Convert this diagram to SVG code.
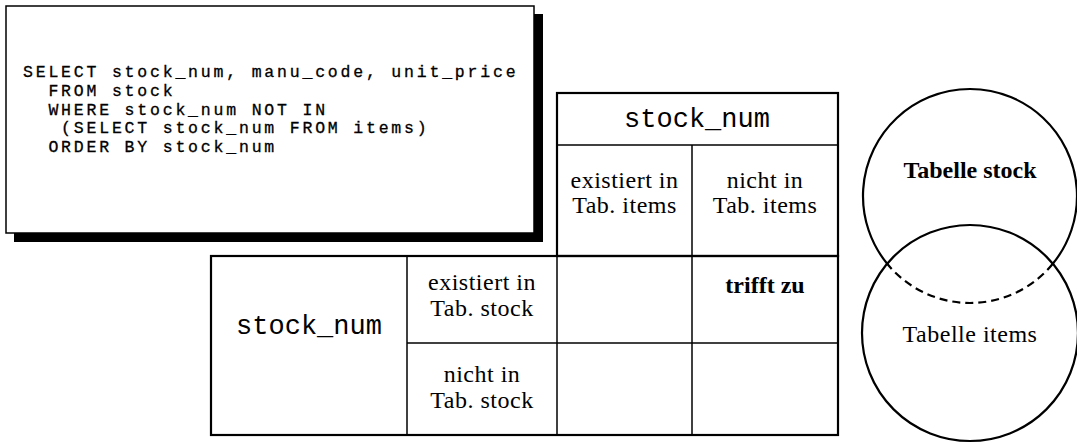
<svg xmlns="http://www.w3.org/2000/svg" width="1077" height="443" viewBox="0 0 1077 443">
  <style>
    .code { font-family: "Liberation Mono", "DejaVu Sans Mono", monospace; font-size: 16.5px; letter-spacing: 2.8px; fill: #000; stroke: #000; stroke-width: 0.3; white-space: pre; }
    .mono { font-family: "Liberation Mono", "DejaVu Sans Mono", monospace; font-size: 27px; fill: #000; text-anchor: middle; }
    .lbl { font-family: "Liberation Serif", "DejaVu Serif", serif; font-size: 24px; fill: #000; text-anchor: middle; letter-spacing: 0.5px; }
    .bold { font-weight: bold; letter-spacing: 0; }
    .frame { fill: none; stroke: #000; stroke-width: 2.2; }
    .rule { fill: none; stroke: #000; stroke-width: 1.5; }
    .circ { fill: none; stroke: #000; stroke-width: 2.2; }
  </style>
  <rect width="1077" height="443" fill="#fff"/>

  <!-- SQL statement card with drop shadow -->
  <g id="sql-card">
    <rect x="14" y="14" width="529" height="228" fill="#000"/>
    <rect x="6" y="6" width="528" height="227" fill="#fff" stroke="#000" stroke-width="1.5"/>
    <text class="code" xml:space="preserve"><tspan x="23" y="77">SELECT stock_num, manu_code, unit_price</tspan><tspan x="23" y="95.8">  FROM stock</tspan><tspan x="23" y="114.6">  WHERE stock_num NOT IN</tspan><tspan x="23" y="133.4">   (SELECT stock_num FROM items)</tspan><tspan x="23" y="152.2">  ORDER BY stock_num</tspan></text>
  </g>

  <!-- column header block: stock_num in items -->
  <g id="col-header">
    <rect class="frame" x="557" y="93" width="281" height="163"/>
    <line class="rule" x1="557" y1="145" x2="838" y2="145"/>
    <line class="rule" x1="692" y1="145" x2="692" y2="256"/>
    <text class="mono" x="697" y="127">stock_num</text>
    <text class="lbl" x="624.5" y="188">existiert in</text>
    <text class="lbl" x="624.5" y="213">Tab. items</text>
    <text class="lbl" x="765" y="188">nicht in</text>
    <text class="lbl" x="765" y="213">Tab. items</text>
  </g>

  <!-- row header block and result cells -->
  <g id="row-header">
    <rect class="frame" x="211" y="256" width="627" height="179"/>
    <line class="rule" x1="407" y1="256" x2="407" y2="435"/>
    <line class="rule" x1="557" y1="256" x2="557" y2="435"/>
    <line class="rule" x1="692" y1="256" x2="692" y2="435"/>
    <line class="rule" x1="407" y1="343" x2="838" y2="343"/>
    <text class="mono" x="309" y="334">stock_num</text>
    <text class="lbl" x="482" y="290">existiert in</text>
    <text class="lbl" x="482" y="316">Tab. stock</text>
    <text class="lbl" x="482" y="382">nicht in</text>
    <text class="lbl" x="482" y="408">Tab. stock</text>
  </g>

  <g id="cell-match">
    <text class="lbl bold" x="765" y="293">trifft zu</text>
  </g>

  <!-- Venn diagram of the two tables -->
  <g id="venn-stock">
    <path class="circ" d="M 887.4 264 A 107 107 0 1 1 1052.6 264"/>
    <path class="circ" d="M 1052.6 264 A 107 107 0 0 1 887.4 264" stroke-dasharray="8 5" stroke-width="1.8"/>
    <text class="lbl bold" x="970" y="178">Tabelle stock</text>
  </g>
  <g id="venn-items">
    <circle class="circ" cx="970" cy="333" r="108"/>
    <text class="lbl" x="970" y="342" letter-spacing="0">Tabelle items</text>
  </g>

  <g id="connectors"></g>
</svg>
